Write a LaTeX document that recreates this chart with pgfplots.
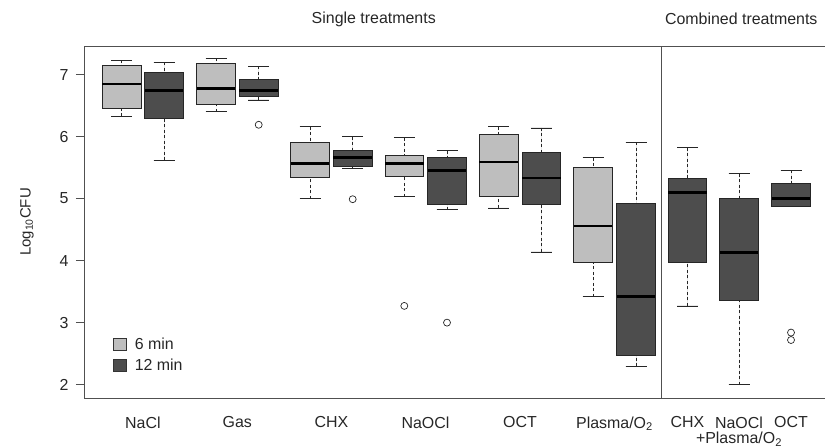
\documentclass[border=0pt]{standalone}
\usepackage{pgfplots}
\pgfplotsset{compat=1.18}
\usepgfplotslibrary{statistics}
\usepackage{fontspec}
\setmainfont{Liberation Sans}
\definecolor{lightbox}{HTML}{BEBEBE}
\definecolor{darkbox}{HTML}{4D4D4D}
\definecolor{framec}{HTML}{505050}
\pgfplotsset{
  boxplot/draw direction=y,
  boxplot/draw/lower whisker/.code={%
    \draw[dash pattern=on 3bp off 2.5bp] (boxplot box cs:\pgfplotsboxplotvalue{lower whisker},0.5) -- (boxplot box cs:\pgfplotsboxplotvalue{lower quartile},0.5);
    \draw[solid] (boxplot whisker cs:\pgfplotsboxplotvalue{lower whisker},0) -- (boxplot whisker cs:\pgfplotsboxplotvalue{lower whisker},1);
  },
  boxplot/draw/upper whisker/.code={%
    \draw[dash pattern=on 3bp off 2.5bp] (boxplot box cs:\pgfplotsboxplotvalue{upper whisker},0.5) -- (boxplot box cs:\pgfplotsboxplotvalue{upper quartile},0.5);
    \draw[solid] (boxplot whisker cs:\pgfplotsboxplotvalue{upper whisker},0) -- (boxplot whisker cs:\pgfplotsboxplotvalue{upper whisker},1);
  },
  boxplot/every median/.style={draw=black, line width=2.6bp},
  common/.style={draw=black!85, line width=0.7bp, boxplot/draw direction=y, boxplot/box extend=0.385, boxplot/whisker extend=0.21,
    mark=o, mark size=3.5bp, mark options={solid, fill=none, draw=black!85, line width=0.7bp}},
  lbox/.style={common, fill=lightbox},
  dbox/.style={common, fill=darkbox},
}
\begin{document}
\begin{tikzpicture}
\useasboundingbox (0,0) rectangle (825bp,447bp);
\begin{axis}[
  at={(84bp,49bp)}, anchor=south west,
  scale only axis, width=741bp, height=352bp,
  xmin=0.84, xmax=8.25, ymin=1.785, ymax=7.46,
  axis line style={draw=framec, line width=0.8bp},
  tick align=outside, major tick length=8bp,
  ytick={2,3,4,5,6,7}, ytick pos=left,
  ytick style={draw=framec, line width=0.7bp},
  xtick={1.4285,2.3735,3.3135,4.255,5.20,6.145,6.875,7.39,7.91},
  xticklabels={NaCl,Gas,CHX,NaOCl,OCT,Plasma/O\textsubscript{2},CHX,{NaOCl\\+Plasma/O\textsubscript{2}},OCT},
  xtick style={draw=none},
  xticklabel style={font=\fontsize{16}{15.5}\selectfont, align=center, yshift=-7bp, text=black!85},
  yticklabel style={font=\fontsize{16}{18}\selectfont, xshift=-4bp, text=black!85},
  /pgf/number format/assume math mode=true,
  ylabel={Log\textsubscript{10}CFU},
  ylabel style={at={(axis description cs:-0.077,0.5)}, anchor=center, font=\fontsize{15}{18}\selectfont, text=black!85},
  clip=false,
  legend style={at={(axis cs:1.10,2.14)}, anchor=south west, draw=none, fill=none,
    font=\fontsize{16}{18}\selectfont, row sep=4bp, legend cell align=left, text=black!85,
    nodes={inner xsep=8bp}},
]
% legend
\addlegendimage{legend image code/.code={\draw[fill=lightbox, draw=black!80, line width=0.6bp] (0bp,-6bp) rectangle (13bp,6bp);}}
\addlegendentry{6 min}
\addlegendimage{legend image code/.code={\draw[fill=darkbox, draw=black!80, line width=0.6bp] (0bp,-6bp) rectangle (13bp,6bp);}}
\addlegendentry{12 min}
% NaCl
\addplot[lbox, forget plot, boxplot prepared={draw position=1.217, lower whisker=6.33, lower quartile=6.46, median=6.845, upper quartile=7.14, upper whisker=7.23}] coordinates {};
\addplot[dbox, forget plot, boxplot prepared={draw position=1.64, lower whisker=5.62, lower quartile=6.29, median=6.74, upper quartile=7.04, upper whisker=7.2}] coordinates {};
% Gas
\addplot[lbox, forget plot, boxplot prepared={draw position=2.16, lower whisker=6.40, lower quartile=6.52, median=6.77, upper quartile=7.18, upper whisker=7.26}] coordinates {};
\addplot[dbox, forget plot, boxplot prepared={draw position=2.587, lower whisker=6.59, lower quartile=6.645, median=6.74, upper quartile=6.915, upper whisker=7.135}] coordinates {(0,6.19)};
% CHX
\addplot[lbox, forget plot, boxplot prepared={draw position=3.10, lower whisker=5.0, lower quartile=5.345, median=5.57, upper quartile=5.91, upper whisker=6.16}] coordinates {};
\addplot[dbox, forget plot, boxplot prepared={draw position=3.527, lower whisker=5.49, lower quartile=5.52, median=5.66, upper quartile=5.785, upper whisker=6.0}] coordinates {(0,4.99)};
% NaOCl
\addplot[lbox, forget plot, boxplot prepared={draw position=4.043, lower whisker=5.03, lower quartile=5.36, median=5.57, upper quartile=5.69, upper whisker=5.98}] coordinates {(0,3.27)};
\addplot[dbox, forget plot, boxplot prepared={draw position=4.47, lower whisker=4.82, lower quartile=4.9, median=5.45, upper quartile=5.67, upper whisker=5.77}] coordinates {(0,3.0)};
% OCT
\addplot[lbox, forget plot, boxplot prepared={draw position=4.987, lower whisker=4.85, lower quartile=5.04, median=5.59, upper quartile=6.04, upper whisker=6.16}] coordinates {};
\addplot[dbox, forget plot, boxplot prepared={draw position=5.413, lower whisker=4.14, lower quartile=4.9, median=5.33, upper quartile=5.75, upper whisker=6.14}] coordinates {};
% Plasma/O2
\addplot[lbox, forget plot, boxplot prepared={draw position=5.93, lower whisker=3.42, lower quartile=3.97, median=4.56, upper quartile=5.5, upper whisker=5.66}] coordinates {};
\addplot[dbox, forget plot, boxplot prepared={draw position=6.36, lower whisker=2.30, lower quartile=2.47, median=3.42, upper quartile=4.92, upper whisker=5.91}] coordinates {};
% Combined
\addplot[dbox, forget plot, boxplot prepared={draw position=6.875, lower whisker=3.27, lower quartile=3.97, median=5.10, upper quartile=5.33, upper whisker=5.82}] coordinates {};
\addplot[dbox, forget plot, boxplot prepared={draw position=7.39, lower whisker=2.0, lower quartile=3.355, median=4.13, upper quartile=5.01, upper whisker=5.40}] coordinates {};
\addplot[dbox, forget plot, boxplot prepared={draw position=7.91, lower whisker=4.88, lower quartile=4.88, median=5.0, upper quartile=5.25, upper whisker=5.46}] coordinates {(0,2.84) (0,2.72)};
% divider
\addplot[forget plot, draw=framec, line width=0.8bp] coordinates {(6.61,1.785) (6.61,7.46)};
% headers
\node[font=\fontsize{16}{18}\selectfont, text=black!85] at (axis description cs:0.391,1.077) {Single treatments};
\node[font=\fontsize{16}{18}\selectfont, text=black!85] at (axis description cs:0.887,1.077) {Combined treatments};
\end{axis}
\end{tikzpicture}
\end{document}
